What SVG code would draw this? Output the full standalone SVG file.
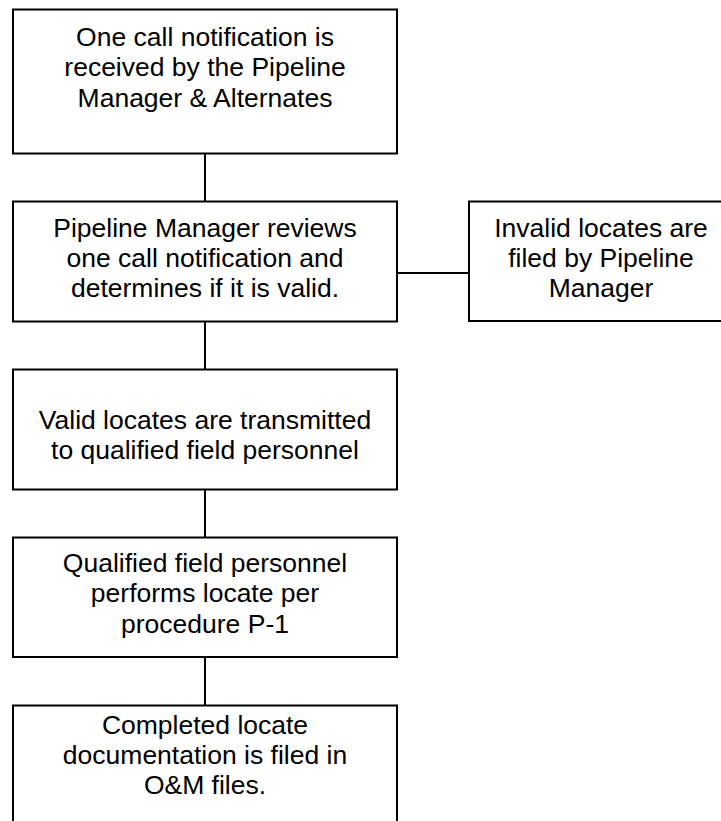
<svg xmlns="http://www.w3.org/2000/svg" width="721" height="821" viewBox="0 0 721 821">
<style>
.box{fill:#fff;stroke:#000;stroke-width:2}
.conn line{stroke:#000;stroke-width:2}
text{font-family:"Liberation Sans",Arial,sans-serif;font-size:26.5px;fill:#000;text-anchor:middle}
</style>
<rect width="721" height="821" fill="#fff"/>
<g id="connectors" class="conn">
<line x1="205" y1="153.5" x2="205" y2="201.5"/>
<line x1="205" y1="321.5" x2="205" y2="369.5"/>
<line x1="205" y1="489.5" x2="205" y2="537.5"/>
<line x1="205" y1="657" x2="205" y2="705.5"/>
<line x1="397" y1="273" x2="469" y2="273"/>
</g>
<g id="n1">
<rect class="box" x="13" y="9.5" width="384" height="144"/>
<text x="205" y="45.5">One call notification is</text>
<text x="205" y="76">received by the Pipeline</text>
<text x="205" y="106.5">Manager &amp; Alternates</text>
</g>
<g id="n2">
<rect class="box" x="13" y="201.5" width="384" height="120"/>
<text x="205" y="236.7">Pipeline Manager reviews</text>
<text x="205" y="267">one call notification and</text>
<text x="205" y="297.3">determines if it is valid.</text>
</g>
<g id="n3">
<rect class="box" x="469" y="201.5" width="264" height="119.5"/>
<text x="601" y="237.3">Invalid locates are</text>
<text x="601" y="267.3">filed by Pipeline</text>
<text x="601" y="297.3">Manager</text>
</g>
<g id="n4">
<rect class="box" x="13" y="369.5" width="384" height="120"/>
<text x="205" y="429">Valid locates are transmitted</text>
<text x="205" y="459.3">to qualified field personnel</text>
</g>
<g id="n5">
<rect class="box" x="13" y="537.5" width="384" height="119.5"/>
<text x="205" y="572.3">Qualified field personnel</text>
<text x="205" y="602">performs locate per</text>
<text x="205" y="632.5">procedure P-1</text>
</g>
<g id="n6">
<rect class="box" x="13" y="705.5" width="384" height="130"/>
<text x="205" y="734.3">Completed locate</text>
<text x="205" y="764.3">documentation is filed in</text>
<text x="205" y="794.3">O&amp;M files.</text>
</g>
</svg>
